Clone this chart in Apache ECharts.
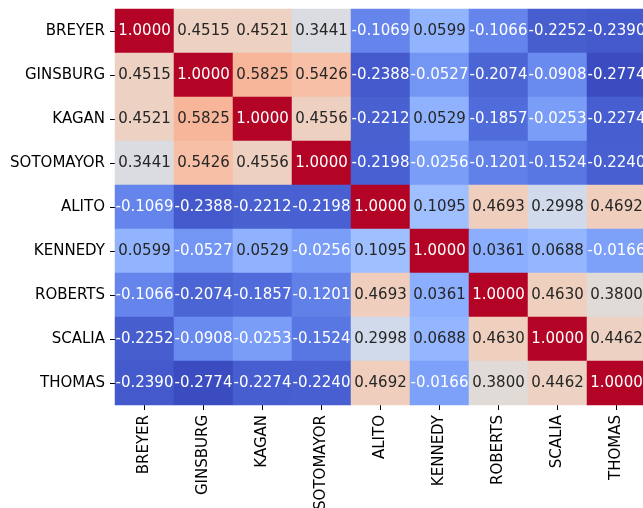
<!DOCTYPE html>
<html>
<head>
<meta charset="utf-8">
<script src="https://cdn.jsdelivr.net/npm/echarts@6/dist/echarts.min.js"></script>
<style>html,body{margin:0;padding:0;background:#fff;}#c{width:643px;height:508px;}</style>
</head>
<body>
<div id="c"></div>
<script>
const justices = ["BREYER","GINSBURG","KAGAN","SOTOMAYOR","ALITO","KENNEDY","ROBERTS","SCALIA","THOMAS"];
const rowBREYER    = [1.0000, 0.4515, 0.4521, 0.3441, -0.1069, 0.0599, -0.1066, -0.2252, -0.2390];
const rowGINSBURG  = [0.4515, 1.0000, 0.5825, 0.5426, -0.2388, -0.0527, -0.2074, -0.0908, -0.2774];
const rowKAGAN     = [0.4521, 0.5825, 1.0000, 0.4556, -0.2212, 0.0529, -0.1857, -0.0253, -0.2274];
const rowSOTOMAYOR = [0.3441, 0.5426, 0.4556, 1.0000, -0.2198, -0.0256, -0.1201, -0.1524, -0.2240];
const rowALITO     = [-0.1069, -0.2388, -0.2212, -0.2198, 1.0000, 0.1095, 0.4693, 0.2998, 0.4692];
const rowKENNEDY   = [0.0599, -0.0527, 0.0529, -0.0256, 0.1095, 1.0000, 0.0361, 0.0688, -0.0166];
const rowROBERTS   = [-0.1066, -0.2074, -0.1857, -0.1201, 0.4693, 0.0361, 1.0000, 0.4630, 0.3800];
const rowSCALIA    = [-0.2252, -0.0908, -0.0253, -0.1524, 0.2998, 0.0688, 0.4630, 1.0000, 0.4462];
const rowTHOMAS    = [-0.2390, -0.2774, -0.2274, -0.2240, 0.4692, -0.0166, 0.3800, 0.4462, 1.0000];
const matrix = [rowBREYER,rowGINSBURG,rowKAGAN,rowSOTOMAYOR,rowALITO,rowKENNEDY,rowROBERTS,rowSCALIA,rowTHOMAS];

// matplotlib coolwarm (Moreland) stops
const coolwarm = [
[59,76,192],[68,90,204],[77,104,215],[87,117,225],[98,130,234],[108,142,241],[119,154,247],[130,165,251],
[141,176,254],[152,185,255],[163,194,255],[174,201,253],[184,208,249],[194,213,244],[204,217,238],[213,219,230],
[221,221,221],[229,216,209],[236,211,197],[241,204,185],[245,196,173],[247,187,160],[247,177,148],[247,166,135],
[244,154,123],[241,141,111],[236,127,99],[229,112,88],[222,96,77],[213,80,66],[203,62,56],[192,40,47],[180,4,38]];
const hex = c => '#' + c.map(v => v.toString(16).padStart(2,'0')).join('');

let vmin = Infinity, vmax = -Infinity;
matrix.forEach(r => r.forEach(v => { vmin = Math.min(vmin, v); vmax = Math.max(vmax, v); }));

function cmap(v){
  let t = (v - vmin) / (vmax - vmin);
  t = Math.max(0, Math.min(1, t)) * (coolwarm.length - 1);
  const i = Math.min(Math.floor(t), coolwarm.length - 2), f = t - i;
  return coolwarm[i].map((a, k) => a + (coolwarm[i+1][k] - a) * f);
}
function lum(c){
  const l = c.map(x => { x /= 255; return x <= 0.03928 ? x / 12.92 : Math.pow((x + 0.055) / 1.055, 2.4); });
  return 0.2126*l[0] + 0.7152*l[1] + 0.0722*l[2];
}

const data = [];
matrix.forEach((row, yi) => row.forEach((v, xi) => {
  data.push({ value: [xi, yi, v], label: { color: lum(cmap(v)) > 0.408 ? '#262626' : '#ffffff' } });
}));

const chart = echarts.init(document.getElementById('c'));
chart.setOption({
  animation: false,
  grid: { left: 115, top: 9, width: 531, height: 396, containLabel: false, outerBoundsMode: 'none' },
  xAxis: {
    type: 'category', data: justices,
    axisLine: { show: false },
    axisTick: { show: true, alignWithLabel: true, length: 5, lineStyle: { color: '#000', width: 1 } },
    axisLabel: { rotate: 90, margin: 10, color: '#000', fontSize: 15, fontFamily: 'DejaVu Sans', interval: 0 },
    splitLine: { show: false }
  },
  yAxis: {
    type: 'category', data: justices, inverse: true,
    axisLine: { show: false },
    axisTick: { show: true, alignWithLabel: true, length: 5, lineStyle: { color: '#000', width: 1 } },
    axisLabel: { margin: 10, color: '#000', fontSize: 15, fontFamily: 'DejaVu Sans', interval: 0 },
    splitLine: { show: false }
  },
  visualMap: {
    show: false, type: 'continuous', min: vmin, max: vmax, dimension: 2,
    inRange: { color: coolwarm.map(hex) }
  },
  series: [{
    type: 'heatmap', data: data,
    label: { show: true, fontSize: 15, fontFamily: 'DejaVu Sans', formatter: p => p.value[2].toFixed(4) },
    itemStyle: { borderWidth: 0 },
    emphasis: { disabled: true }
  }]
});
</script>
</body>
</html>
